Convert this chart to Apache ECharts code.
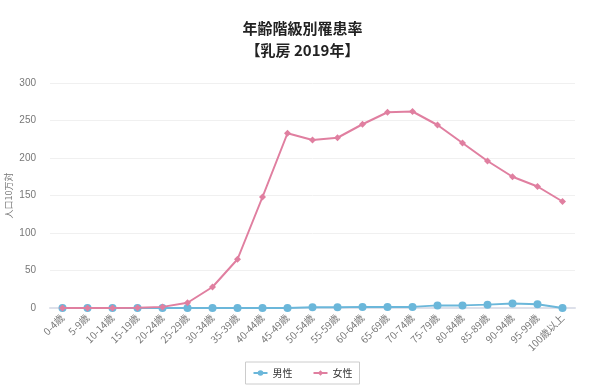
<!DOCTYPE html>
<html><head><meta charset="utf-8">
<script src="https://cdn.jsdelivr.net/npm/echarts@6/dist/echarts.min.js"></script>
<style>html,body{margin:0;padding:0;background:#fff}#c{width:605px;height:392px}</style>
</head><body><div id="c"></div>
<script>
const categories = ['0-4歳','5-9歳','10-14歳','15-19歳','20-24歳','25-29歳','30-34歳','35-39歳','40-44歳','45-49歳','50-54歳','55-59歳','60-64歳','65-69歳','70-74歳','75-79歳','80-84歳','85-89歳','90-94歳','95-99歳','100歳以上'];
const male = [0, 0, 0, 0, 0, 0, 0, 0, 0, 0, 1, 1, 1.5, 1.5, 1.5, 3.5, 3.5, 4.5, 6, 5, 0];
const female = [0.1, 0, 0, 0.3, 1.5, 7, 28, 65, 148, 233, 224, 227, 245, 261, 262, 244, 220, 196, 175, 162, 142];
const yTicks = {min: 0, max: 300, interval: 50};

const chart = echarts.init(document.getElementById('c'));
chart.setOption({
  animation: false,
  title: {
    text: '年齢階級別罹患率\n【乳房 2019年】',
    left: 'center', top: 12,
    textStyle: {fontSize: 15, fontWeight: 'bold', color: '#222', lineHeight: 22, fontFamily: 'Noto Sans CJK JP'}
  },
  legend: {
    bottom: 8, left: 'center',
    data: ['男性', '女性'],
    borderColor: '#ccc', borderWidth: 1, padding: [6, 7],
    itemGap: 20, itemWidth: 14, itemHeight: 7,
    textStyle: {fontSize: 10, color: '#333', fontFamily: 'Noto Sans CJK JP'}
  },
  grid: {left: 50, right: 30, top: 83, bottom: 84, containLabel: false, outerBoundsMode: 'none'},
  xAxis: {
    type: 'category', data: categories, boundaryGap: true,
    axisLine: {lineStyle: {color: '#dde0ea', width: 2}},
    axisTick: {show: false},
    axisLabel: {rotate: 45, fontSize: 10, color: '#777', interval: 0, fontFamily: 'Noto Sans CJK JP', margin: 8}
  },
  yAxis: {
    type: 'value', min: yTicks.min, max: yTicks.max, interval: yTicks.interval,
    name: '人口10万対', nameLocation: 'middle', nameGap: 37, nameRotate: 90, nameMoveOverlap: false,
    nameTextStyle: {fontSize: 9, color: '#777', fontFamily: 'Noto Sans CJK JP'},
    axisLine: {show: false}, axisTick: {show: false},
    axisLabel: {fontSize: 10, color: '#777', margin: 14},
    splitLine: {lineStyle: {color: '#f0f0f0'}}
  },
  series: [
    {name: '男性', type: 'line', data: male, symbol: 'circle', symbolSize: 8,
     itemStyle: {color: '#6bb7da'}, lineStyle: {width: 2, color: '#6bb7da'}, z: 2},
    {name: '女性', type: 'line', data: female, symbol: 'diamond', symbolSize: 7,
     itemStyle: {color: '#e07fa0'}, lineStyle: {width: 2, color: '#e07fa0'}, z: 3}
  ]
});
</script></body></html>
